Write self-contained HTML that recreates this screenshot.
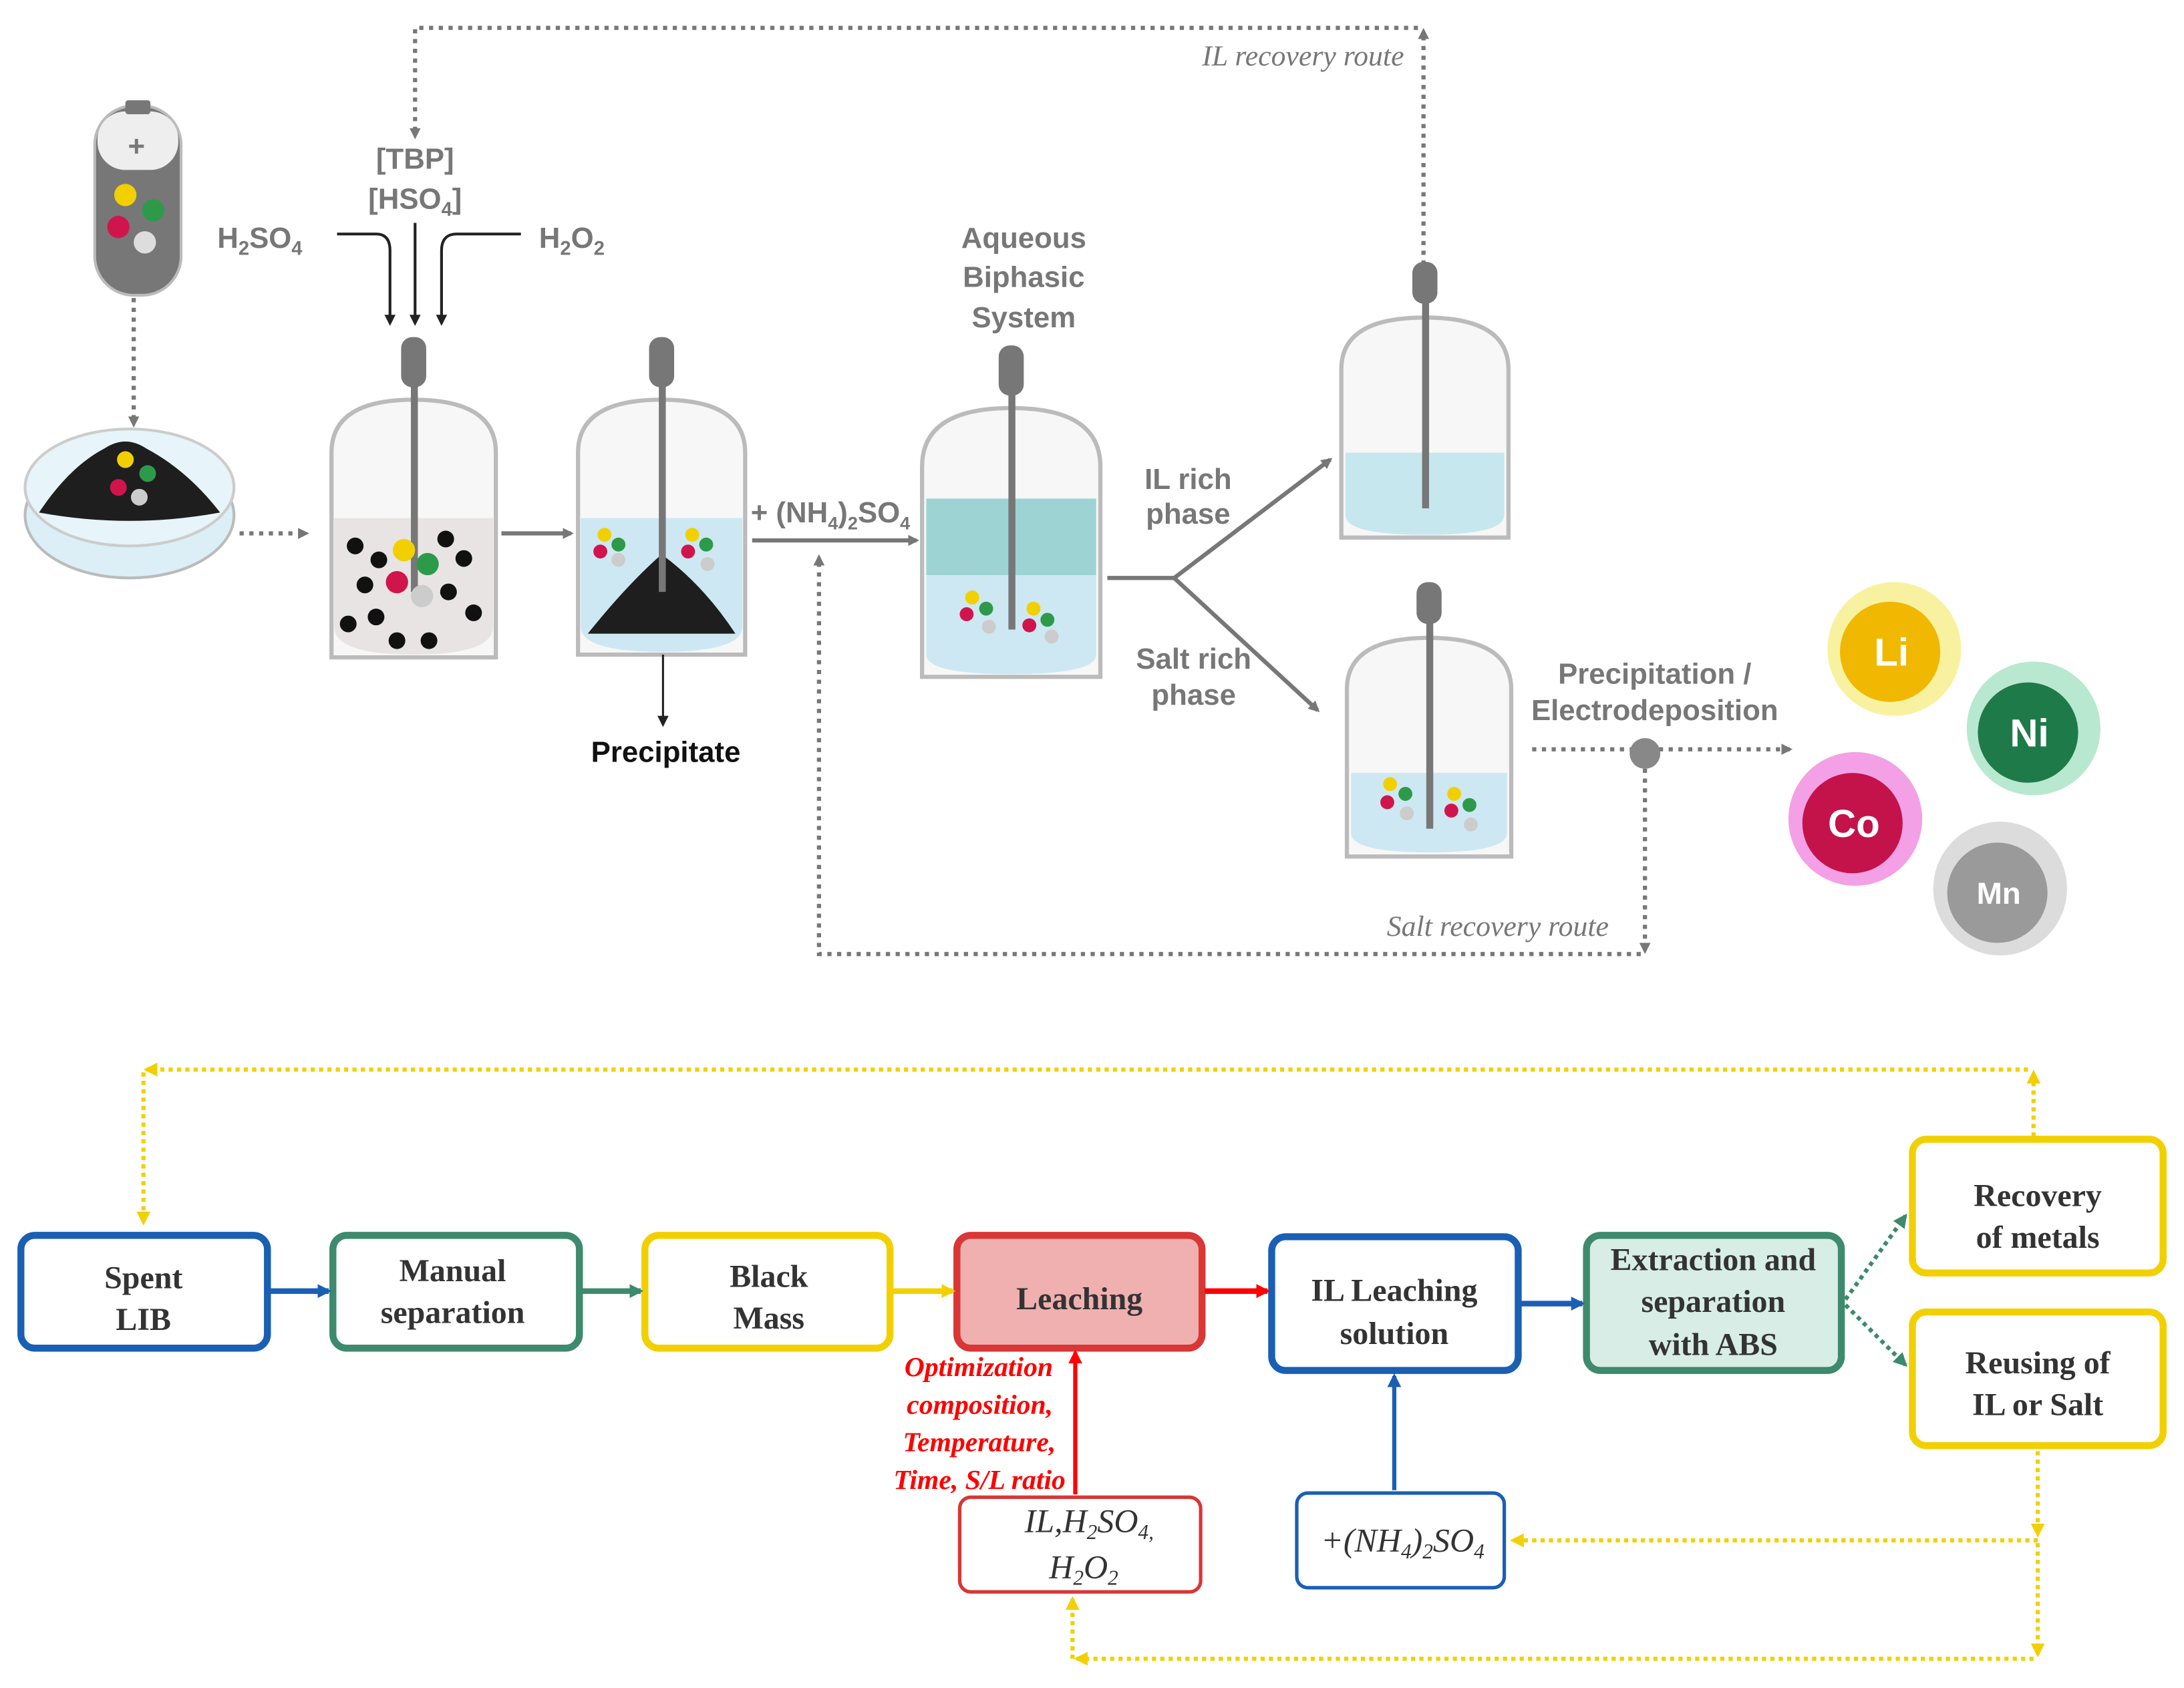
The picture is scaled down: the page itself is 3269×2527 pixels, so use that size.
<!DOCTYPE html>
<html><head><meta charset="utf-8"><style>
html,body{margin:0;padding:0;background:#fff;}
svg{display:block;}
.g{font-family:"Liberation Sans",Arial,sans-serif;font-weight:bold;fill:#777;font-size:21px;}
.b{font-family:"Liberation Serif",serif;font-weight:bold;fill:#333;font-size:23px;text-anchor:middle;}
.r{font-family:"Liberation Serif",serif;font-weight:bold;font-style:italic;fill:#f00;font-size:20px;text-anchor:end;}
.i{font-family:"Liberation Serif",serif;font-style:italic;fill:#777;font-size:21px;}
.it{font-family:"Liberation Serif",serif;font-style:italic;fill:#333;font-size:24px;text-anchor:middle;}
</style></head><body>
<svg width="3269" height="2527" viewBox="0 0 1568 1212" preserveAspectRatio="none" xmlns="http://www.w3.org/2000/svg">
<defs>
<marker id="ag" markerWidth="8" markerHeight="8" refX="6" refY="4" orient="auto" markerUnits="userSpaceOnUse"><path d="M0,0 L8,4 L0,8z" fill="#777"/></marker>
<marker id="ak" markerWidth="8" markerHeight="8" refX="6" refY="4" orient="auto" markerUnits="userSpaceOnUse"><path d="M0,0 L8,4 L0,8z" fill="#222"/></marker>
<marker id="ab" markerWidth="10" markerHeight="10" refX="8" refY="5" orient="auto" markerUnits="userSpaceOnUse"><path d="M0,0 L10,5 L0,10z" fill="#1a5fb4"/></marker>
<marker id="agr" markerWidth="10" markerHeight="10" refX="8" refY="5" orient="auto" markerUnits="userSpaceOnUse"><path d="M0,0 L10,5 L0,10z" fill="#3d8a6e"/></marker>
<marker id="ay" markerWidth="10" markerHeight="10" refX="8" refY="5" orient="auto" markerUnits="userSpaceOnUse"><path d="M0,0 L10,5 L0,10z" fill="#f2d000"/></marker>
<marker id="ar" markerWidth="10" markerHeight="10" refX="8" refY="5" orient="auto" markerUnits="userSpaceOnUse"><path d="M0,0 L10,5 L0,10z" fill="#f00"/></marker>
</defs>

<!-- IL recovery route -->
<path d="M1022,190 V22" fill="none" stroke="#777" stroke-width="3" stroke-dasharray="3,4" marker-end="url(#ag)"/>
<path d="M1018,20 H298 V98" fill="none" stroke="#777" stroke-width="3" stroke-dasharray="3,4" marker-end="url(#ag)"/>
<text x="1008" y="47" class="i" text-anchor="end">IL recovery route</text>

<!-- battery -->
<rect x="68" y="76" width="62" height="136" rx="28" fill="#777" stroke="#bbb" stroke-width="2"/>
<rect x="70" y="80" width="58" height="42" rx="20" fill="#eee"/>
<rect x="90" y="72" width="18" height="10" rx="2" fill="#777"/>
<text x="98" y="112" class="g" text-anchor="middle" fill="#999" font-size="22">+</text>
<circle cx="90" cy="140" r="8" fill="#f2d000"/><circle cx="110" cy="151" r="8" fill="#2d9a4a"/>
<circle cx="85" cy="163" r="8" fill="#d0154d"/><circle cx="104" cy="174" r="8" fill="#ddd"/>
<path d="M96,214 V305" stroke="#777" stroke-width="3" stroke-dasharray="3,4" marker-end="url(#ag)"/>

<!-- petri -->
<ellipse cx="93" cy="370" rx="75" ry="45" fill="#dceff6" stroke="#bbb" stroke-width="2"/>
<ellipse cx="93" cy="350" rx="75" ry="42" fill="#e7f4f9" stroke="#ccc" stroke-width="2"/>
<path d="M28,368 Q50,335 75,322 Q90,312 105,322 Q135,338 158,368 Q93,380 28,368 Z" fill="#1e1e1e"/>
<circle cx="90" cy="330" r="6" fill="#f2d000"/><circle cx="106" cy="340" r="6" fill="#2d9a4a"/>
<circle cx="85" cy="350" r="6" fill="#d0154d"/><circle cx="100" cy="357" r="6" fill="#ccc"/>
<path d="M172,383 H220" stroke="#777" stroke-width="3" stroke-dasharray="3,4" marker-end="url(#ag)"/>

<!-- reagents -->
<text x="298" y="121" class="g" text-anchor="middle">[TBP]</text>
<text x="298" y="150" class="g" text-anchor="middle">[HSO<tspan font-size="14" dy="5">4</tspan><tspan dy="-5">]</tspan></text>
<text x="156" y="178" class="g">H<tspan font-size="14" dy="5">2</tspan><tspan dy="-5">SO</tspan><tspan font-size="14" dy="5">4</tspan></text>
<text x="387" y="178" class="g">H<tspan font-size="14" dy="5">2</tspan><tspan dy="-5">O</tspan><tspan font-size="14" dy="5">2</tspan></text>
<path d="M242,168 H270 Q280,168 280,180 V232" fill="none" stroke="#222" stroke-width="2" marker-end="url(#ak)"/>
<path d="M298,160 V232" stroke="#222" stroke-width="2" marker-end="url(#ak)"/>
<path d="M374,168 H328 Q317,168 317,180 V232" fill="none" stroke="#222" stroke-width="2" marker-end="url(#ak)"/>

<!-- vessel 1 -->
<path d="M238,472 V325 Q238,287 297,287 Q356,287 356,325 V472 Z" fill="#f7f7f7" stroke="#bbb" stroke-width="3"/>
<path d="M240,372 H354 V450 Q354,470 297,470 Q240,470 240,450 Z" fill="#e8e4e4"/>
<rect x="295" y="275" width="5" height="150" fill="#777"/><rect x="288" y="242" width="18" height="36" rx="8" fill="#777"/>
<g fill="#111"><circle cx="255" cy="392" r="6"/><circle cx="272" cy="402" r="6"/><circle cx="320" cy="387" r="6"/><circle cx="333" cy="401" r="6"/><circle cx="262" cy="420" r="6"/><circle cx="270" cy="443" r="6"/><circle cx="250" cy="448" r="6"/><circle cx="340" cy="440" r="6"/><circle cx="285" cy="460" r="6"/><circle cx="308" cy="460" r="6"/><circle cx="322" cy="425" r="6"/></g>
<circle cx="290" cy="395" r="8" fill="#f2d000"/><circle cx="307" cy="405" r="8" fill="#2d9a4a"/><circle cx="285" cy="418" r="8" fill="#d0154d"/><circle cx="303" cy="428" r="8" fill="#ccc"/>
<path d="M360,383 H410" stroke="#777" stroke-width="3" marker-end="url(#ag)"/>

<!-- vessel 2 -->
<path d="M415,470 V325 Q415,287 475,287 Q535,287 535,325 V470 Z" fill="#f7f7f7" stroke="#bbb" stroke-width="3"/>
<path d="M417,372 H533 V450 Q533,468 475,468 Q417,468 417,450 Z" fill="#cde8f2"/>
<path d="M422,455 Q450,420 475,398 Q505,420 528,455 Z" fill="#1e1e1e"/>
<rect x="473" y="275" width="5" height="150" fill="#777"/><rect x="466" y="242" width="18" height="36" rx="8" fill="#777"/>
<circle cx="434" cy="384" r="5" fill="#f2d000"/><circle cx="444" cy="391" r="5" fill="#2d9a4a"/><circle cx="431" cy="396" r="5" fill="#d0154d"/><circle cx="444" cy="402" r="5" fill="#ccc"/>
<circle cx="497" cy="384" r="5" fill="#f2d000"/><circle cx="507" cy="391" r="5" fill="#2d9a4a"/><circle cx="494" cy="396" r="5" fill="#d0154d"/><circle cx="508" cy="405" r="5" fill="#ccc"/>
<path d="M476,470 V520" stroke="#222" stroke-width="1.5" marker-end="url(#ak)"/>
<text x="478" y="547" font-family="Liberation Sans,sans-serif" font-weight="bold" font-size="21" text-anchor="middle" fill="#111">Precipitate</text>

<text x="539" y="375" class="g" font-size="19">+ (NH<tspan font-size="13" dy="5">4</tspan><tspan dy="-5">)</tspan><tspan font-size="13" dy="5">2</tspan><tspan dy="-5">SO</tspan><tspan font-size="13" dy="5">4</tspan></text>
<path d="M540,388 H658" stroke="#777" stroke-width="3" marker-end="url(#ag)"/>

<!-- ABS -->
<text x="735" y="178" class="g" text-anchor="middle">Aqueous</text>
<text x="735" y="206" class="g" text-anchor="middle">Biphasic</text>
<text x="735" y="235" class="g" text-anchor="middle">System</text>
<path d="M662,486 V335 Q662,293 726,293 Q790,293 790,335 V486 Z" fill="#f7f7f7" stroke="#bbb" stroke-width="3"/>
<rect x="665" y="358" width="122" height="55" fill="#9dd3d3"/>
<path d="M665,413 H787 V470 Q787,484 726,484 Q665,484 665,470 Z" fill="#cde8f2"/>
<rect x="724" y="282" width="5" height="170" fill="#777"/><rect x="717" y="248" width="18" height="36" rx="8" fill="#777"/>
<circle cx="698" cy="429" r="5" fill="#f2d000"/><circle cx="708" cy="437" r="5" fill="#2d9a4a"/><circle cx="694" cy="441" r="5" fill="#d0154d"/><circle cx="710" cy="450" r="5" fill="#ccc"/>
<circle cx="742" cy="437" r="5" fill="#f2d000"/><circle cx="752" cy="445" r="5" fill="#2d9a4a"/><circle cx="739" cy="449" r="5" fill="#d0154d"/><circle cx="755" cy="457" r="5" fill="#ccc"/>

<path d="M795,415 H843 L955,330" fill="none" stroke="#777" stroke-width="3" marker-end="url(#ag)"/>
<path d="M843,415 L946,510" fill="none" stroke="#777" stroke-width="3" marker-end="url(#ag)"/>
<text x="853" y="351" class="g" text-anchor="middle" font-size="19">IL rich</text>
<text x="853" y="376" class="g" text-anchor="middle" font-size="19">phase</text>
<text x="857" y="480" class="g" text-anchor="middle" font-size="19">Salt rich</text>
<text x="857" y="506" class="g" text-anchor="middle" font-size="19">phase</text>

<!-- vessel 4 -->
<path d="M963,386 V265 Q963,228 1023,228 Q1083,228 1083,265 V386 Z" fill="#f7f7f7" stroke="#bbb" stroke-width="3"/>
<path d="M966,325 H1080 V370 Q1080,384 1023,384 Q966,384 966,370 Z" fill="#c7e7ee"/>
<rect x="1021" y="215" width="5" height="150" fill="#777"/><rect x="1014" y="188" width="18" height="30" rx="8" fill="#777"/>
<!-- vessel 5 -->
<path d="M967,615 V495 Q967,458 1026,458 Q1085,458 1085,495 V615 Z" fill="#f7f7f7" stroke="#bbb" stroke-width="3"/>
<path d="M970,555 H1082 V598 Q1082,612 1026,612 Q970,612 970,598 Z" fill="#cde8f2"/>
<rect x="1024" y="445" width="5" height="150" fill="#777"/><rect x="1017" y="418" width="18" height="30" rx="8" fill="#777"/>
<circle cx="998" cy="563" r="5" fill="#f2d000"/><circle cx="1009" cy="570" r="5" fill="#2d9a4a"/><circle cx="996" cy="576" r="5" fill="#d0154d"/><circle cx="1010" cy="584" r="5" fill="#ccc"/>
<circle cx="1044" cy="570" r="5" fill="#f2d000"/><circle cx="1055" cy="578" r="5" fill="#2d9a4a"/><circle cx="1042" cy="582" r="5" fill="#d0154d"/><circle cx="1056" cy="592" r="5" fill="#ccc"/>

<text x="1188" y="491" class="g" text-anchor="middle" font-size="19">Precipitation /</text>
<text x="1188" y="517" class="g" text-anchor="middle" font-size="19">Electrodeposition</text>
<path d="M1100,538 H1285" stroke="#777" stroke-width="3" stroke-dasharray="3,4" marker-end="url(#ag)"/>
<circle cx="1181" cy="541" r="11" fill="#888"/>
<path d="M1181,552 V683" fill="none" stroke="#777" stroke-width="3" stroke-dasharray="3,4" marker-end="url(#ag)"/>
<path d="M1178,685 H588 V400" fill="none" stroke="#777" stroke-width="3" stroke-dasharray="3,4" marker-end="url(#ag)"/>
<text x="1155" y="672" class="i" text-anchor="end">Salt recovery route</text>

<!-- metals -->
<circle cx="1360" cy="466" r="48" fill="#f8f2a0"/><circle cx="1357" cy="468" r="36" fill="#f0b800"/>
<text x="1358" y="478" font-family="Liberation Sans,sans-serif" font-weight="bold" font-size="28" fill="#fff" text-anchor="middle">Li</text>
<circle cx="1460" cy="523" r="48" fill="#b8e8d0"/><circle cx="1456" cy="526" r="36" fill="#1f7a4a"/>
<text x="1457" y="536" font-family="Liberation Sans,sans-serif" font-weight="bold" font-size="28" fill="#fff" text-anchor="middle">Ni</text>
<circle cx="1332" cy="588" r="48" fill="#f3a0e6"/><circle cx="1330" cy="591" r="36" fill="#c4124a"/>
<text x="1331" y="601" font-family="Liberation Sans,sans-serif" font-weight="bold" font-size="28" fill="#fff" text-anchor="middle">Co</text>
<circle cx="1436" cy="638" r="48" fill="#dcdcdc"/><circle cx="1434" cy="641" r="36" fill="#9a9a9a"/>
<text x="1435" y="649" font-family="Liberation Sans,sans-serif" font-weight="bold" font-size="22" fill="#fff" text-anchor="middle">Mn</text>

<!-- BOTTOM flow -->
<path d="M1460,816 V770" fill="none" stroke="#f2d000" stroke-width="3" stroke-dasharray="3,3" marker-end="url(#ay)"/>
<path d="M1456,768 H105" fill="none" stroke="#f2d000" stroke-width="3" stroke-dasharray="3,3" marker-end="url(#ay)"/>
<path d="M103,770 V878" fill="none" stroke="#f2d000" stroke-width="3" stroke-dasharray="3,3" marker-end="url(#ay)"/>
<rect x="15" y="887" width="177" height="81" rx="10" fill="#fff" stroke="#1a5fb4" stroke-width="5"/>
<text x="103" y="925" class="b">Spent</text><text x="103" y="955" class="b">LIB</text>
<rect x="239" y="887" width="177" height="81" rx="10" fill="#fff" stroke="#3d8a6e" stroke-width="5"/>
<text x="325" y="920" class="b">Manual</text><text x="325" y="950" class="b">separation</text>
<rect x="463" y="887" width="176" height="81" rx="10" fill="#fff" stroke="#f2d000" stroke-width="5"/>
<text x="552" y="924" class="b">Black</text><text x="552" y="954" class="b">Mass</text>
<rect x="687" y="887" width="176" height="81" rx="10" fill="#f0b0b0" stroke="#d93636" stroke-width="5"/>
<text x="775" y="940" class="b" font-size="27">Leaching</text>
<rect x="913" y="888" width="177" height="96" rx="10" fill="#fff" stroke="#1a5fb4" stroke-width="5"/>
<text x="1001" y="934" class="b">IL Leaching</text><text x="1001" y="965" class="b">solution</text>
<rect x="1139" y="887" width="183" height="97" rx="10" fill="#d7ede6" stroke="#3d8a6e" stroke-width="5"/>
<text x="1230" y="912" class="b">Extraction and</text><text x="1230" y="942" class="b">separation</text><text x="1230" y="973" class="b">with ABS</text>
<rect x="1373" y="818" width="180" height="96" rx="10" fill="#fff" stroke="#f2d000" stroke-width="5"/>
<text x="1463" y="866" class="b">Recovery</text><text x="1463" y="896" class="b">of metals</text>
<rect x="1373" y="942" width="180" height="96" rx="10" fill="#fff" stroke="#f2d000" stroke-width="5"/>
<text x="1463" y="986" class="b">Reusing of</text><text x="1463" y="1016" class="b">IL or Salt</text>

<path d="M194,927 H236" stroke="#1a5fb4" stroke-width="4" marker-end="url(#ab)"/>
<path d="M418,927 H460" stroke="#3d8a6e" stroke-width="4" marker-end="url(#agr)"/>
<path d="M641,927 H684" stroke="#f2d000" stroke-width="4" marker-end="url(#ay)"/>
<path d="M865,927 H910" stroke="#f00" stroke-width="4" marker-end="url(#ar)"/>
<path d="M1092,936 H1136" stroke="#1a5fb4" stroke-width="4" marker-end="url(#ab)"/>
<path d="M1325,933 L1368,873" stroke="#3d8a6e" stroke-width="3" stroke-dasharray="3,3" marker-end="url(#agr)"/>
<path d="M1325,937 L1368,980" stroke="#3d8a6e" stroke-width="3" stroke-dasharray="3,3" marker-end="url(#agr)"/>

<text x="756" y="988" class="r">Optimization</text>
<text x="756" y="1015" class="r">composition,</text>
<text x="758" y="1042" class="r">Temperature,</text>
<text x="765" y="1069" class="r">Time, S/L ratio</text>
<path d="M772,1073 V971" stroke="#f00" stroke-width="3" marker-end="url(#ar)"/>
<path d="M1001,1070 V988" stroke="#1a5fb4" stroke-width="3" marker-end="url(#ab)"/>

<rect x="689" y="1075" width="173" height="68" rx="8" fill="#fff" stroke="#d93636" stroke-width="2.5"/>
<text x="782" y="1100" class="it">IL,H<tspan font-size="15" dy="5">2</tspan><tspan dy="-5">SO</tspan><tspan font-size="15" dy="5">4,</tspan></text>
<text x="778" y="1133" class="it">H<tspan font-size="15" dy="5">2</tspan><tspan dy="-5">O</tspan><tspan font-size="15" dy="5">2</tspan></text>
<rect x="931" y="1072" width="149" height="68" rx="8" fill="#fff" stroke="#1a5fb4" stroke-width="2.5"/>
<text x="1007" y="1114" class="it">+(NH<tspan font-size="15" dy="5">4</tspan><tspan dy="-5">)</tspan><tspan font-size="15" dy="5">2</tspan><tspan dy="-5">SO</tspan><tspan font-size="15" dy="5">4</tspan></text>

<path d="M1463,1042 V1102" fill="none" stroke="#f2d000" stroke-width="3" stroke-dasharray="3,3" marker-end="url(#ay)"/>
<path d="M1463,1108 V1188" fill="none" stroke="#f2d000" stroke-width="3" stroke-dasharray="3,3" marker-end="url(#ay)"/>
<path d="M1463,1106 H1086" fill="none" stroke="#f2d000" stroke-width="3" stroke-dasharray="3,3" marker-end="url(#ay)"/>
<path d="M1460,1191 H773" fill="none" stroke="#f2d000" stroke-width="3" stroke-dasharray="3,3" marker-end="url(#ay)"/>
<path d="M770,1191 V1148" fill="none" stroke="#f2d000" stroke-width="3" stroke-dasharray="3,3" marker-end="url(#ay)"/>
</svg>
</body></html>
